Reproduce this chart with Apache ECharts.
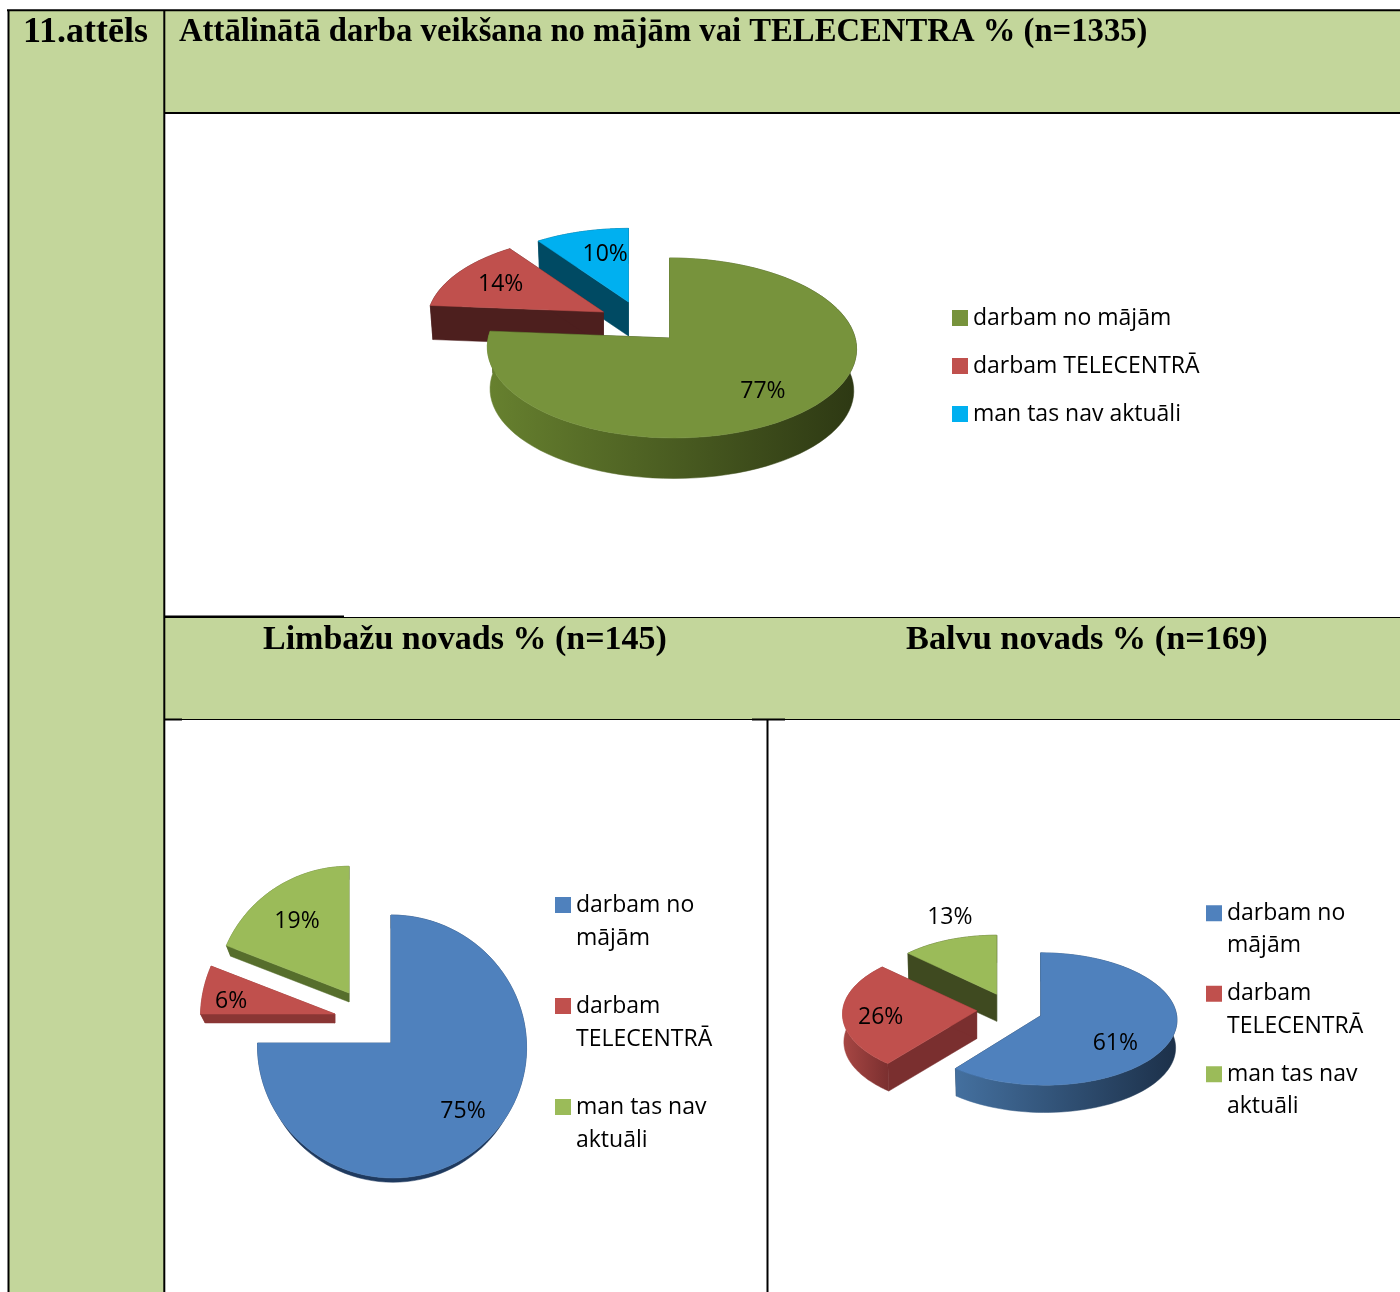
<!DOCTYPE html>
<html>
<head>
<meta charset="utf-8">
<title>11.attēls</title>
<script src="https://cdn.jsdelivr.net/npm/echarts@6/dist/echarts.min.js"></script>
<style>
html, body { margin: 0; padding: 0; background: #fff; }
#main { width: 1400px; height: 1292px; }
</style>
</head>
<body>
<div id="main"></div>
<script>
var categories = ['darbam no mājām', 'darbam TELECENTRĀ', 'man tas nav aktuāli'];
var visiValues = [77, 14, 10];
var limbaziValues = [75, 6, 19];
var balviValues = [61, 26, 13];

var figureLabel = '11.attēls';
var mainTitle = 'Attālinātā darba veikšana no mājām vai TELECENTRA % (n=1335)';
var limbaziTitle = 'Limbažu novads % (n=145)';
var balviTitle = 'Balvu novads % (n=169)';

var GREEN_BG = '#c3d69b';
var TITLE_FONT = '"Liberation Serif"';
var TEXT_FONT = '"Open Sans"';

// tilt of each pie: rx/ry of the ellipse, k = perspective, skew = sideways lean of the near edge,
// shrink = how much smaller the underside is, scale = exploded slices sit further back so look smaller
var pies = [
    {
        values: visiValues,
        center: [669.5, 338], rx: 183.5, ry: 88.9, k: 0.111, shrink: 0.985,
        skew: [2.2, 0, 0],
        scale: [1, 0.955, 0.92],
        depth: [42, 34, 34],
        explode: [[0, 0], [-66, -26], [-41, -36]],
        labelAt: [[0.67, 0.73], [0.71, 0.73], [0.5, 0.69]],
        top: ['#77933c', '#c0504d', '#00b0f0'],
        arc: [['#67812f', '#2d3813'], ['#4d1f1e', '#4d1f1e'], ['#004a63', '#004a63']],
        radial: ['#2d3813', '#4d1f1e', '#004a63'],
        order: [2, 1, 0]
    },
    {
        values: limbaziValues,
        center: [391, 1043], rx: 134.5, ry: 131.4, k: 0.0266, shrink: 0.965,
        skew: [1, 0, 0],
        scale: [1, 1, 0.99],
        depth: [9, 9, 9],
        explode: [[0, 0], [-56, -29], [-42, -50]],
        labelAt: [[0.73, 0.71], [0.79, 0.58], [0.71, 0.69]],
        top: ['#4f81bd', '#c0504d', '#9bbb59'],
        arc: [['#1f3a5f', '#1f3a5f'], ['#8a3634', '#8a3634'], ['#566e2c', '#566e2c']],
        radial: ['#1f3a5f', '#8a3634', '#566e2c'],
        order: [2, 1, 0]
    },
    {
        values: balviValues,
        center: [1040.7, 1015.7], rx: 134, ry: 66, k: 0.05, shrink: 0.99,
        skew: [2, 0, 0],
        scale: [1, 1, 0.94],
        depth: [28, 28, 27],
        explode: [[0, 0], [-64, -5], [-44, -21.4]],
        labelAt: [[0.57, 1.15], [0.716, 1.2], [0.98, 1.44]],
        top: ['#4f81bd', '#c0504d', '#9bbb59'],
        arc: [['#44709f', '#1c3049'], ['#a84744', '#7a2f2f'], ['#3f4a20', '#3f4a20']],
        radial: ['#1c3049', '#7a2f2f', '#3f4a20'],
        order: [2, 1, 0]
    }
];

function project(pie, theta, scale, skew) {
    var p = scale / (1 + pie.k * Math.cos(theta));
    return [
        pie.rx * Math.sin(theta) * p + skew * scale * (1 - Math.cos(theta)),
        -pie.ry * Math.cos(theta) * p
    ];
}

function shape(points, fill) {
    return { type: 'polygon', shape: { points: points }, style: { fill: fill, stroke: fill, lineWidth: 0.5 } };
}

function sliceRenderer(pie, index) {
    return function (params, api) {
        var total = pie.values.reduce(function (a, b) { return a + b; }, 0);
        var before = pie.values.slice(0, index).reduce(function (a, b) { return a + b; }, 0);
        var value = api.value(0);
        var a0 = before / total * Math.PI * 2;
        var a1 = (before + value) / total * Math.PI * 2;
        var ox = pie.center[0] + pie.explode[index][0];
        var oy = pie.center[1] + pie.explode[index][1];
        var depth = pie.depth[index];
        var scale = pie.scale[index];
        var skew = pie.skew[index];

        function topPt(t) {
            var v = project(pie, t, scale, skew);
            return [ox + v[0], oy + v[1]];
        }
        function lowPt(t) {
            var v = project(pie, t, scale * pie.shrink, skew);
            return [ox + v[0], oy + v[1] + depth];
        }
        var apexTop = [ox, oy];
        var apexLow = [ox, oy + depth];
        var steps = 90, topArc = [], lowArc = [];
        for (var i = 0; i <= steps; i++) {
            var t = a0 + (a1 - a0) * i / steps;
            topArc.push(topPt(t));
            lowArc.push(lowPt(t));
        }
        var arcWall = shape(topArc.concat(lowArc.slice().reverse()), new echarts.graphic.LinearGradient(0, 0, 1, 0, [
            { offset: 0, color: pie.arc[index][0] },
            { offset: 1, color: pie.arc[index][1] }
        ]));
        var midAngle = (a0 + a1) / 2;
        var mid = project(pie, midAngle, scale, skew);
        var fr = pie.labelAt[index];
        return {
            type: 'group',
            children: [
                shape([apexTop, topPt(a0), lowPt(a0), apexLow], pie.radial[index]),
                shape([apexTop, topPt(a1), lowPt(a1), apexLow], pie.radial[index]),
                arcWall,
                shape([apexTop].concat(topArc), pie.top[index]),
                {
                    type: 'text',
                    z2: 10,
                    style: {
                        text: value + '%',
                        x: ox + mid[0] * fr[0],
                        y: oy + mid[1] * fr[1] + 1.5,
                        align: 'center',
                        verticalAlign: 'middle',
                        font: '23px ' + TEXT_FONT,
                        fill: '#000'
                    }
                }
            ]
        };
    };
}

var series = [];
pies.forEach(function (pie) {
    pie.order.forEach(function (index) {
        series.push({
            type: 'custom',
            name: categories[index],
            coordinateSystem: 'none',
            silent: true,
            itemStyle: { color: pie.top[index] },
            data: [[pie.values[index]]],
            renderItem: sliceRenderer(pie, index)
        });
    });
});

function legendFor(pie, left, top, lineHeight, gap, wrapped) {
    return {
        orient: 'vertical',
        left: left,
        top: top,
        padding: 0,
        itemWidth: 16,
        itemHeight: 16,
        itemGap: gap,
        icon: 'rect',
        selectedMode: false,
        textStyle: { fontFamily: 'Open Sans', fontSize: 23, lineHeight: lineHeight, color: '#000', padding: [4, 0, 0, 0] },
        formatter: function (name) {
            // the blank first line keeps the swatch level with the first text line
            return wrapped ? '\n' + name.replace(/ (\S+)$/, '\n$1') : name;
        },
        data: categories.map(function (name, i) {
            return { name: name, itemStyle: { color: pie.top[i] } };
        })
    };
}

function titleAt(text, left, top, size) {
    return {
        text: text,
        left: left,
        top: top,
        padding: 0,
        textStyle: { fontFamily: TITLE_FONT, fontWeight: 'bold', fontSize: size, color: '#000' }
    };
}

function hLine(x1, x2, y, width) {
    return { type: 'line', shape: { x1: x1, y1: y, x2: x2, y2: y }, style: { stroke: '#000', lineWidth: width } };
}
function vLine(x, y1, y2, width) {
    return { type: 'line', shape: { x1: x, y1: y1, x2: x, y2: y2 }, style: { stroke: '#000', lineWidth: width } };
}
function band(x, y, w, h) {
    return { type: 'rect', shape: { x: x, y: y, width: w, height: h }, style: { fill: GREEN_BG } };
}

var myChart = echarts.init(document.getElementById('main'));
var option = {
    backgroundColor: '#fff',
    animation: false,
    title: [
        titleAt(figureLabel, 23, 15, 36),
        titleAt(mainTitle, 179, 16, 32.7),
        titleAt(limbaziTitle, 263, 623, 34),
        titleAt(balviTitle, 906, 623, 34.3)
    ],
    legend: [
        legendFor(pies[0], 952, 299.5, 33, 11, false),
        legendFor(pies[1], 555, 853.5, 33, -2, true),
        legendFor(pies[2], 1206, 862.5, 32.5, -21, true)
    ],
    graphic: {
        elements: [
            band(8, 10, 156, 1282),
            band(164, 10, 1236, 103),
            band(164, 617, 1236, 102),
            hLine(7, 1400, 10.3, 2),
            vLine(8.5, 10, 1292, 2),
            vLine(164.3, 10, 1292, 2),
            hLine(164, 1400, 113, 2),
            hLine(164, 1400, 617.5, 1),
            hLine(164, 344, 616.5, 2),
            hLine(164, 1400, 719.5, 1),
            hLine(164, 182, 719.5, 2),
            hLine(752, 785, 719.5, 2),
            vLine(767.5, 720, 1292, 2)
        ]
    },
    series: series
};
myChart.setOption(option);
</script>
</body>
</html>
